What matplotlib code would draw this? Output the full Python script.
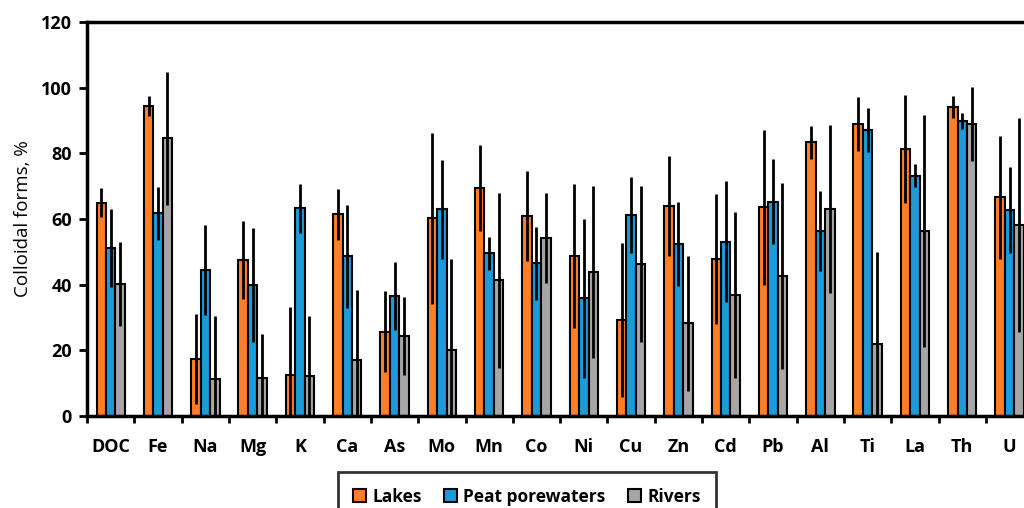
import numpy as np
import matplotlib.pyplot as plt

plt.rcParams["font.family"] = ["Open Sans", "DejaVu Sans"]

# --- data ---
elements = ["DOC", "Fe", "Na", "Mg", "K", "Ca", "As", "Mo", "Mn", "Co",
            "Ni", "Cu", "Zn", "Cd", "Pb", "Al", "Ti", "La", "Th", "U"]

lakes = [65.0, 94.4, 17.4, 47.5, 12.5, 61.4, 25.7, 60.2, 69.4, 61.0,
         48.7, 29.2, 63.9, 47.9, 63.5, 83.3, 88.8, 81.2, 94.0, 66.6]
lakes_err = [4.3, 3.0, 13.8, 11.8, 20.8, 7.7, 12.3, 26.0, 13.1, 13.7,
             22.0, 23.4, 15.2, 19.8, 23.6, 5.0, 8.2, 16.4, 3.3, 18.7]

peat = [51.1, 61.7, 44.5, 39.9, 63.2, 48.6, 36.6, 62.9, 49.6, 46.5,
        35.8, 61.1, 52.4, 53.1, 65.3, 56.4, 87.1, 73.2, 89.9, 62.7]
peat_err = [11.8, 8.0, 13.7, 17.3, 7.4, 15.7, 10.4, 15.0, 5.0, 11.1,
            24.3, 11.6, 12.9, 18.3, 12.8, 12.2, 6.7, 3.5, 2.5, 13.0]

rivers = [40.2, 84.5, 11.2, 11.5, 12.2, 17.1, 24.4, 20.1, 41.3, 54.2,
          43.8, 46.2, 28.2, 36.9, 42.6, 63.0, 21.9, 56.4, 88.9, 58.2]
rivers_err = [12.7, 20.3, 19.3, 13.4, 18.3, 21.3, 11.9, 27.7, 26.7, 13.8,
              26.2, 23.7, 20.5, 25.3, 28.4, 25.6, 27.9, 35.3, 11.4, 32.6]

series = [
    ("Lakes", lakes, lakes_err, "#FF7F27"),
    ("Peat porewaters", peat, peat_err, "#1B9BD7"),
    ("Rivers", rivers, rivers_err, "#A6A6A6"),
]

# --- plot ---
fig = plt.figure(figsize=(10.24, 5.08), dpi=100)
ax = fig.add_axes([0.085, 0.181, 0.924, 0.776])

x = np.arange(len(elements))
w = 0.2
for i, (name, vals, errs, col) in enumerate(series):
    ax.bar(x + (i - 1) * w, vals, w, color=col, edgecolor="black",
           linewidth=1.5, label=name)
    ax.errorbar(x + (i - 1) * w, vals, yerr=errs, fmt="none",
                ecolor="black", elinewidth=2, capsize=0)

ax.set_xlim(-0.5, len(elements) - 0.5)
ax.set_ylim(0, 120)
ax.set_yticks(np.arange(0, 121, 20))
ax.set_xticks(np.arange(-0.5, len(elements), 1.0))
ax.set_xticklabels([])
ax.set_xticks(x, minor=True)
ax.set_xticklabels(elements, minor=True, fontsize=13, fontweight="bold")
ax.tick_params(axis="x", which="minor", length=0, pad=16)
ax.tick_params(axis="x", which="major", length=5, width=2, direction="out")
ax.tick_params(axis="y", length=6, width=2, direction="out", labelsize=13,
               pad=5)
for lab in ax.get_yticklabels():
    lab.set_fontweight("bold")
for s in ax.spines.values():
    s.set_linewidth(2.5)

ax.set_ylabel("Colloidal forms, %", fontsize=13.5, labelpad=6)

leg = fig.legend(loc="upper center", bbox_to_anchor=(0.5146, 0.071), ncol=3,
                 frameon=True, fancybox=False, edgecolor="black",
                 prop={"size": 12.5, "weight": "bold"}, handlelength=0.75,
                 handleheight=0.75, handletextpad=0.35, columnspacing=1.3,
                 borderpad=0.9, borderaxespad=0)
leg.get_frame().set_linewidth(2)

fig.savefig("out.png", dpi=100)
